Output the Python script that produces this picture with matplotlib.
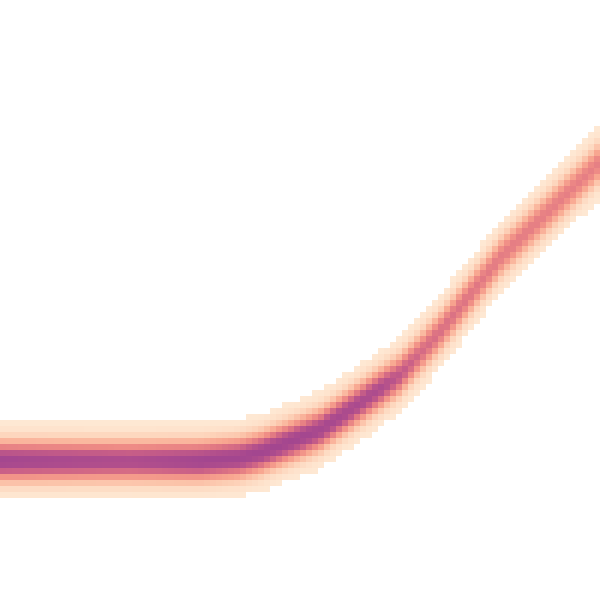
"""Binned density of a noisy curve drawn as a pixelated heatmap."""

import numpy as np
import matplotlib
matplotlib.use("Agg")
import matplotlib.pyplot as plt
from matplotlib.colors import LinearSegmentedColormap, PowerNorm

# ridge of the band, in the chart's own units (y grows downward)
ridge_x = [0, 100, 200, 240, 260, 300, 320, 350, 370, 400, 440, 500, 550, 600]
ridge_y = [461, 461, 461, 458, 453, 438, 430, 410, 396, 375, 332, 258, 210, 162]

# relative peak density along the ridge
peak_x = [0, 60, 130, 200, 300, 380, 420, 500, 600]
peak_v = [1.0, 0.97, 0.94, 1.0, 1.0, 0.94, 0.78, 0.71, 0.69]

# vertical spread of the band
spread = 16.0

colors = ["#fee8d3", "#fdd6bd", "#fbbfa5", "#f8a690", "#f08e86",
          "#e07783", "#c95f87", "#b24f8c", "#a3468f"]
cmap = LinearSegmentedColormap.from_list("band", colors)

# 100 x 100 bins
edges = np.linspace(0, 600, 101)
centers = (edges[:-1] + edges[1:]) / 2
xx, yy = np.meshgrid(centers, centers)
mid = np.interp(xx, ridge_x, ridge_y)
amp = np.interp(xx, peak_x, peak_v)
z = amp * np.exp(-((yy - mid) ** 2) / (2 * spread ** 2))
z = np.ma.masked_less(z, 0.05)

fig = plt.figure(figsize=(6, 6), dpi=100)
ax = fig.add_axes([0, 0, 1, 1])
ax.pcolormesh(edges, edges, z, cmap=cmap,
              norm=PowerNorm(gamma=1.4, vmin=0.05, vmax=1.0))
ax.set_xlim(0, 600)
ax.set_ylim(600, 0)
ax.axis("off")

fig.savefig("out.png", dpi=100)
plt.close(fig)
